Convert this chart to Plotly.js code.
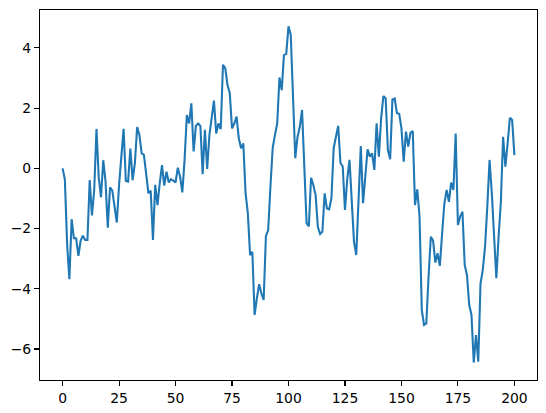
<!DOCTYPE html>
<html>
<head>
<meta charset="utf-8">
<script src="https://cdn.plot.ly/plotly-3.0.1.min.js"></script>
<style>
  html, body { margin: 0; padding: 0; background: #ffffff; }
  #chart { width: 546px; height: 413px; }
</style>
</head>
<body>
<div id="chart"></div>
<script>
// Series values (one value per step, steps 0..200)
const values = [
  0.0, -0.36, -2.5, -3.68, -1.69, -2.32, -2.32, -2.91, -2.40, -2.24,
  -2.38, -2.38, -0.39, -1.56, -0.72, 1.31, -0.3, -0.96, 0.27, -0.42,
  -1.97, -0.63, -0.74, -1.33, -1.80, -0.55, 0.4, 1.31, -0.42, -0.44,
  0.66, -0.39, 0.17, 1.37, 1.11, 0.5, 0.45, -0.22, -0.83, -0.74,
  -2.38, -0.55, -1.22, -0.5, 0.11, -0.57, -0.11, -0.47, -0.36, -0.41,
  -0.47, 0.02, -0.27, -0.8, 0.28, 1.77, 1.49, 2.16, 0.56, 1.41,
  1.49, 1.41, -0.19, 1.28, -0.02, 1.11, 1.72, 2.25, 1.16, 1.49,
  1.3, 3.44, 3.33, 2.77, 2.5, 1.33, 1.49, 1.72, 1.0, 0.67,
  0.83, -0.83, -1.49, -2.88, -2.77, -4.87, -4.32, -3.85, -4.15, -4.37,
  -2.25, -2.05, -0.61, 0.67, 1.11, 1.49, 3.02, 2.6, 3.77, 3.8,
  4.72, 4.43, 2.38, 0.34, 1.05, 1.38, 1.94, -0.1, -1.82, -1.93,
  -0.31, -0.55, -0.89, -1.95, -2.18, -2.1, -0.83, -1.33, -1.36, -1.0,
  0.67, 1.05, 1.41, 0.18, 0.06, -1.38, -0.36, 0.28, -1.05, -2.44,
  -2.88, -1.05, 0.74, -1.16, -0.11, 0.63, 0.39, 0.5, -0.05, 1.5,
  0.39, 1.66, 2.4, 2.33, 0.61, 0.3, 2.29, 2.32, 1.83, 1.81,
  1.33, 0.22, 1.22, 0.72, 1.19, 1.24, -1.22, -0.7, -1.6, -4.7,
  -5.2, -5.15, -3.6, -2.27, -2.4, -3.13, -2.82, -3.24, -2.16, -1.16,
  -0.72, -1.11, -0.47, -0.72, 1.16, -1.88, -1.6, -1.44, -3.21, -3.54,
  -4.54, -4.87, -6.45, -5.54, -6.42, -3.82, -3.38, -2.6, -1.27, 0.28,
  -0.83, -2.16, -3.65, -2.27, -1.11, 1.05, 0.06, 0.83, 1.68, 1.61,
  0.44
];
// Step index for each value
const steps = values.map((_, i) => i);

// Tick labels
const xTicks = [0, 25, 50, 75, 100, 125, 150, 175, 200];
const yTicks = [-6, -4, -2, 0, 2, 4];

const axisCommon = {
  showgrid: false,
  zeroline: false,
  showline: true,
  mirror: true,
  linecolor: '#000000',
  linewidth: 1.1,
  ticks: 'outside',
  ticklen: 5,
  tickwidth: 1.1,
  tickcolor: '#000000',
  tickfont: { family: 'DejaVu Sans', size: 13.9, color: '#000000' },
  fixedrange: true
};

const trace = {
  x: steps,
  y: values,
  type: 'scatter',
  mode: 'lines',
  line: { color: '#1f77b4', width: 2.08 },
  hoverinfo: 'skip'
};

const layout = {
  width: 546,
  height: 413,
  margin: { l: 40, r: 9, t: 10, b: 33, pad: 0 },
  paper_bgcolor: '#ffffff',
  plot_bgcolor: '#ffffff',
  showlegend: false,
  xaxis: Object.assign({}, axisCommon, {
    range: [-10, 210],
    tickvals: xTicks,
    ticktext: xTicks.map(String)
  }),
  yaxis: Object.assign({}, axisCommon, {
    range: [-7.03, 5.26],
    tickvals: yTicks,
    ticktext: yTicks.map(v => (v < 0 ? '\u2212' + Math.abs(v) : String(v)))
  })
};

Plotly.newPlot('chart', [trace], layout, { staticPlot: true, displayModeBar: false });
</script>
</body>
</html>
